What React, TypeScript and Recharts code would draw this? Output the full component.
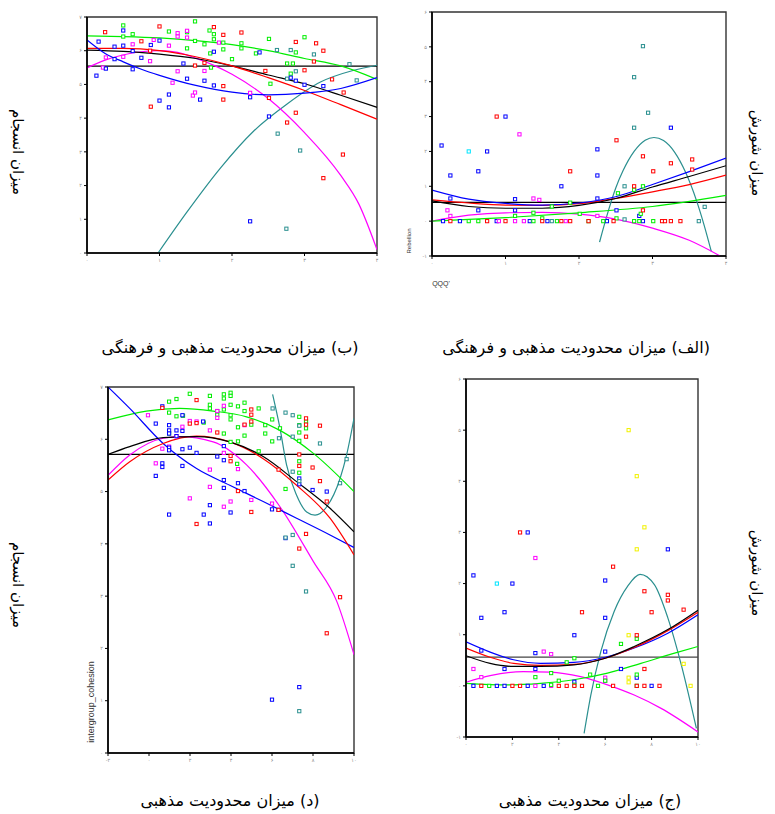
import React from "react";
import { ComposedChart, Scatter, Line, XAxis, YAxis, ReferenceLine, ReferenceArea } from "recharts";

type Pt = [number, number];

// ---- (الف) شورش / محدودیت مذهبی و فرهنگی ----
const A_X_TICKS = [0, 1, 2, 3, 4];
const A_Y_TICKS = [-1, 0, 1, 2, 3, 4, 5, 6];
const A_MEAN = 0.54;
const A_BLUE: Pt[] = [
  [0.13, 2.17], [0.25, 1.31], [0.25, 0.65], [0.63, 1.43], [0.75, 2.0], [1.0, 3.0], [1.13, 0.63], [1.13, 0.31],
  [2.25, 2.06], [2.25, 1.31], [2.25, 0.65], [1.76, 1.0], [2.51, 0.31], [2.82, 0.15], [3.25, 2.68], [0.63, 0.31],
  [0.15, 0], [0.38, 0], [0.88, 0], [1.33, 0], [1.57, 0], [2.38, 0], [2.87, 0],
];
const A_CYAN: Pt[] = [[0.5, 2.0]];
const A_RED: Pt[] = [
  [0.88, 3.0], [1.88, 1.43], [2.51, 2.32], [2.87, 1.86], [3.01, 1.43], [3.25, 1.66], [3.54, 1.77], [3.54, 1.48],
  [2.75, 1.0], [2.87, 0.31], [0.25, 0], [0.75, 0], [1.0, 0], [1.5, 0], [1.76, 0], [1.88, 0], [2.13, 0], [2.47, 0],
  [3.13, 0], [3.17, 0], [3.25, 0], [3.38, 0],
];
const A_MAGENTA: Pt[] = [
  [1.19, 2.49], [0.21, 0.31], [0.25, 0.15], [1.38, 0.65], [1.46, 0.61], [2.25, 0.15], [0.91, 0], [1.13, 0], [1.25, 0], [1.82, 0],
];
const A_GREEN: Pt[] = [
  [1.88, 0.53], [2.01, 0.21], [1.13, 0.15], [1.38, 0.24], [1.5, 0.08], [1.63, 0.42], [2.53, 0.8], [2.75, 0.9],
  [2.87, 1.0], [2.51, 0.08], [2.84, 0.21], [0.5, 0], [0.63, 0], [1.38, 0], [1.7, 0], [2.13, 0], [2.33, 0], [2.75, 0],
  [2.82, 0], [3.01, 0],
];
const A_TEAL: Pt[] = [
  [2.87, 5.02], [2.75, 4.13], [2.94, 3.11], [2.75, 2.68], [2.62, 1.0], [2.62, 0.05], [3.71, 0.41], [3.63, 0], [1.63, 0],
];
const A_FIT_BLUE: Pt[] = [[0, 0.89], [0.5, 0.63], [1, 0.51], [1.5, 0.46], [2, 0.52], [2.5, 0.7], [3, 1.05], [3.5, 1.42], [4, 1.81]];
const A_FIT_BLACK: Pt[] = [[0, 0.58], [0.5, 0.42], [1, 0.37], [1.5, 0.37], [2, 0.45], [2.5, 0.65], [3, 0.98], [3.5, 1.28], [4, 1.59]];
const A_FIT_RED: Pt[] = [[0, 0.61], [0.5, 0.52], [1, 0.46], [1.5, 0.45], [2, 0.5], [2.5, 0.65], [3, 0.84], [3.5, 1.05], [4, 1.32]];
const A_FIT_GREEN: Pt[] = [[0, 0], [1, 0.1], [2, 0.24], [3, 0.42], [4, 0.74]];
const A_FIT_MAGENTA: Pt[] = [[0, 0], [0.5, 0.17], [1, 0.24], [1.5, 0.25], [2, 0.2], [2.5, 0.06], [3, -0.2], [3.5, -0.55], [3.92, -1.0]];
const A_FIT_TEAL: Pt[] = [
  [2.28, -0.6], [2.4, 0.3], [2.5, 0.95], [2.6, 1.45], [2.75, 2.0], [2.9, 2.32], [3.02, 2.4], [3.15, 2.31],
  [3.3, 1.98], [3.45, 1.4], [3.6, 0.58], [3.7, -0.1], [3.8, -0.87],
];

// ---- (ب) انسجام / محدودیت مذهبی و فرهنگی ----
const B_X_TICKS = [0, 1, 2, 3, 4];
const B_Y_TICKS = [0, 1, 2, 3, 4, 5, 6, 7];
const B_MEAN = 5.54;
const B_GREEN: Pt[] = [
  [0.5, 6.75], [0.5, 6.42], [0.63, 6.49], [1.13, 6.57], [1.38, 6.55], [1.38, 6.07], [1.49, 6.87], [1.49, 6.29],
  [1.62, 6.19], [1.69, 6.6], [1.7, 5.92], [1.75, 6.49], [1.75, 6.34], [1.88, 6.24], [1.88, 6.04], [2.0, 5.75],
  [2.13, 6.22], [2.13, 6.07], [2.33, 5.92], [2.51, 6.35], [2.53, 5.02], [2.76, 5.62], [2.84, 5.62], [2.88, 5.95],
  [3.0, 6.4], [2.81, 5.32], [1.71, 5.5],
];
const B_RED: Pt[] = [
  [0.25, 6.55], [0.75, 6.28], [0.87, 6.0], [1.0, 6.72], [1.75, 6.7], [1.88, 6.47], [2.13, 6.54], [2.46, 5.4],
  [2.51, 4.6], [2.76, 3.87], [2.88, 6.26], [2.88, 4.16], [3.0, 5.42], [3.13, 5.68], [3.16, 6.22], [3.26, 6.0],
  [3.26, 2.22], [3.38, 5.15], [3.53, 2.92], [3.54, 4.76], [0.88, 4.34], [1.49, 5.56], [1.88, 4.95], [1.88, 4.55],
  [1.62, 5.64],
];
const B_BLUE: Pt[] = [
  [0.13, 5.26], [0.16, 6.27], [0.26, 5.47], [0.38, 6.12], [0.38, 5.75], [0.5, 6.6], [0.5, 6.15], [0.63, 5.99],
  [0.63, 5.45], [0.75, 5.79], [0.88, 6.17], [1.0, 6.3], [1.0, 4.52], [1.13, 4.7], [1.13, 4.32], [1.33, 5.62],
  [1.38, 5.17], [1.56, 4.55], [1.62, 5.11], [1.75, 5.97], [1.75, 4.97], [2.25, 4.62], [2.38, 5.95], [2.51, 4.05],
  [2.25, 0.94], [2.81, 5.2], [2.88, 5.11], [3.0, 4.99], [3.26, 4.95],
];
const B_TEAL: Pt[] = [
  [2.62, 6.02], [2.81, 6.02], [2.76, 5.17], [2.88, 5.39], [3.13, 5.89], [3.62, 5.6], [3.72, 5.12], [2.63, 3.54],
  [2.94, 3.04], [2.75, 0.72],
];
const B_MAGENTA: Pt[] = [
  [0.22, 5.5], [0.26, 5.8], [0.5, 5.82], [0.63, 6.19], [0.87, 5.99], [0.87, 5.69], [0.92, 6.32], [1.13, 6.15],
  [1.18, 5.05], [1.25, 6.52], [1.25, 6.42], [1.25, 5.39], [1.38, 6.59], [1.38, 6.39], [1.46, 4.67], [1.49, 4.76],
  [1.62, 5.4], [1.82, 6.24], [2.25, 4.75],
];
const B_FIT_GREEN: Pt[] = [[0, 6.44], [0.5, 6.42], [1, 6.38], [1.5, 6.3], [2, 6.18], [2.5, 6.0], [3, 5.77], [3.5, 5.55], [4, 5.15]];
const B_FIT_RED: Pt[] = [[0, 6.07], [0.5, 6.07], [1, 6.0], [1.5, 5.82], [2, 5.55], [2.5, 5.2], [3, 4.82], [3.5, 4.4], [4, 3.97]];
const B_FIT_BLACK: Pt[] = [[0, 6.02], [0.5, 5.98], [1, 5.9], [1.5, 5.77], [2, 5.55], [2.5, 5.28], [3, 5.02], [3.5, 4.68], [4, 4.32]];
const B_FIT_BLUE: Pt[] = [[0, 6.32], [0.25, 5.92], [0.5, 5.67], [0.75, 5.45], [1, 5.27], [1.5, 4.97], [2, 4.77], [2.5, 4.69], [3, 4.74], [3.5, 4.88], [4, 5.2]];
const B_FIT_MAGENTA: Pt[] = [[0, 5.49], [0.25, 5.72], [0.75, 5.97], [1, 6.0], [1.25, 5.95], [1.5, 5.78], [2, 5.3], [2.5, 4.58], [3, 3.57], [3.5, 2.3], [3.75, 1.45], [4, 0.1]];
const B_FIT_TEAL: Pt[] = [[0.98, 0], [1.38, 1.22], [1.84, 2.52], [2.3, 3.62], [2.76, 4.42], [3.22, 5.07], [3.68, 5.42], [4, 5.57]];

// ---- (ج) شورش / محدودیت مذهبی ----
const C_X_TICKS = [0, 2, 4, 6, 8, 10];
const C_Y_TICKS = [-1, 0, 1, 2, 3, 4, 5, 6];
const C_MEAN = 0.56;
const C_BLUE: Pt[] = [
  [0.32, 2.16], [0.66, 1.33], [0.32, 0], [0.66, 0.69], [1.33, 0], [1.66, 1.44], [1.66, 0.33], [1.66, 0], [2.0, 2.0],
  [2.66, 3.0], [2.66, 0], [2.99, 0.64], [2.99, 0.33], [3.35, 0], [4.67, 0.99], [4.67, 0.08], [6.0, 2.06], [6.0, 1.33],
  [6.0, 0.67], [6.68, 0.33], [7.36, 0.16], [8.0, 0], [8.7, 2.67],
];
const C_CYAN: Pt[] = [[1.33, 2.0]];
const C_RED: Pt[] = [
  [0.66, 0], [2.0, 0], [2.33, 3.0], [2.33, 0], [4.0, 0], [4.34, 0], [4.67, 0], [5.0, 1.44], [5.0, 0], [6.34, 2.33],
  [6.34, 0], [7.36, 0.99], [7.36, 0], [7.69, 1.85], [7.69, 0.33], [7.69, 0], [8.0, 1.44], [8.34, 0], [8.7, 1.78],
  [8.7, 1.67], [9.38, 1.49],
];
const C_MAGENTA: Pt[] = [[0.32, 0.33], [0.66, 0.17], [2.99, 2.5], [2.99, 0], [3.35, 0.67], [3.67, 0.62], [3.67, 0], [6.0, 0.16], [6.0, 0.1]];
const C_GREEN: Pt[] = [
  [1.0, 0], [2.99, 0.17], [3.67, 0.25], [4.0, 0.1], [4.34, 0.46], [4.67, 0.54], [5.35, 0.22], [5.69, 0], [6.0, 0.1],
  [6.68, 0.82], [7.36, 0.92], [7.36, 0.22], [7.36, 0], [3.67, 0.02], [4.67, 0.02],
];
const C_YELLOW: Pt[] = [[7.01, 5.0], [7.36, 4.1], [7.69, 3.1], [7.36, 2.67], [7.01, 0.99], [7.01, 0.16], [7.01, 0.07], [9.38, 0.43], [9.68, 0]];
const C_FIT_BLACK: Pt[] = [[0, 0.59], [1.04, 0.44], [2.05, 0.38], [3.21, 0.38], [4.65, 0.41], [6, 0.54], [7.25, 0.77], [8.7, 1.1], [10, 1.48]];
const C_FIT_RED: Pt[] = [[0, 0.74], [1.04, 0.56], [2.05, 0.44], [3.21, 0.4], [4.65, 0.42], [6, 0.54], [7.25, 0.75], [8.7, 1.08], [10, 1.44]];
const C_FIT_BLUE: Pt[] = [[0, 0.86], [1.04, 0.66], [2.05, 0.51], [3.21, 0.44], [4.65, 0.46], [6, 0.56], [7.25, 0.74], [8.7, 1.03], [10, 1.39]];
const C_FIT_GREEN: Pt[] = [[0, 0.05], [1.76, 0.02], [3.21, 0.05], [4.65, 0.12], [6.1, 0.25], [7.54, 0.44], [8.99, 0.64], [10, 0.77]];
const C_FIT_MAGENTA: Pt[] = [[0, 0.07], [1.04, 0.2], [2.47, 0.28], [3.64, 0.27], [4.94, 0.18], [6.1, 0.02], [7.25, -0.18], [8.41, -0.44], [10, -0.9]];
const C_FIT_TEAL: Pt[] = [[5.09, -0.93], [5.38, -0.18], [5.81, 0.67], [6.39, 1.46], [6.97, 1.95], [7.5, 2.18], [8.12, 1.98], [8.7, 1.33], [9.28, 0.41], [9.93, -0.83]];

// ---- (د) انسجام / محدودیت مذهبی ----
const D_X_TICKS = [-2, 0, 2, 4, 6, 8, 10];
const D_Y_TICKS = [0, 1, 2, 3, 4, 5, 6, 7];
const D_MEAN = 5.71;
const D_GREEN: Pt[] = [
  [0.98, 6.72], [1.34, 6.77], [0.98, 6.51], [1.34, 6.44], [1.99, 6.87], [2.97, 6.83], [2.97, 6.66], [2.97, 6.59],
  [3.65, 6.86], [3.65, 6.78], [3.98, 6.89], [3.98, 6.83], [3.65, 6.57], [3.98, 6.66], [4.34, 6.63], [4.66, 6.7],
  [4.66, 6.54], [5.35, 6.59], [4.66, 6.07], [4.34, 5.96], [3.98, 5.95], [3.65, 6.11], [3.98, 6.46], [3.98, 6.38],
  [4.34, 6.23], [3.33, 6.54], [3.33, 6.47], [2.67, 6.32], [4.99, 6.28], [5.67, 6.11], [5.67, 6.27], [6.01, 6.38],
  [6.01, 5.96], [5.35, 5.77], [6.39, 6.21], [7.33, 6.43], [7.33, 6.27], [7.33, 6.13], [7.66, 6.21], [7.33, 5.97],
  [7.33, 5.58], [7.33, 5.36], [7.66, 6.34], [6.66, 5.05], [4.3, 5.53], [0.98, 6.11], [1.66, 6.45],
];
const D_RED: Pt[] = [
  [0.65, 6.6], [2.32, 6.75], [2.32, 6.31], [1.99, 6.3], [4.99, 6.57], [4.99, 6.47], [4.99, 6.34], [4.66, 6.28],
  [3.33, 6.13], [3.98, 5.68], [3.98, 5.58], [4.34, 5.01], [4.99, 4.61], [6.32, 5.42], [6.32, 4.65], [7.33, 5.71],
  [7.33, 5.49], [7.66, 6.4], [7.66, 6.28], [7.66, 6.05], [7.98, 5.46], [8.34, 6.26], [8.34, 5.2], [8.67, 4.81],
  [2.32, 4.38], [7.33, 3.91], [7.66, 4.19], [9.32, 2.98], [8.67, 2.29],
];
const D_BLUE: Pt[] = [
  [0.65, 6.63], [0.33, 6.3], [0.65, 5.54], [0.65, 5.47], [0.33, 5.3], [0.98, 6.27], [0.98, 6.17], [0.98, 6.11],
  [0.98, 5.84], [0.98, 5.79], [1.34, 6.17], [1.34, 6.06], [1.63, 6.46], [1.63, 5.81], [1.63, 5.49], [1.99, 5.84],
  [2.32, 5.74], [2.64, 6.34], [2.97, 4.74], [2.67, 4.56], [0.98, 4.56], [2.97, 4.39], [3.65, 5.87], [3.65, 5.6],
  [3.33, 5.67], [3.65, 5.22], [3.65, 5.07], [3.98, 4.6], [4.34, 5.16], [4.66, 5.01], [6.0, 4.66], [6.32, 4.65],
  [6.66, 4.11], [7.33, 5.25], [7.33, 5.14], [7.98, 5.03], [8.67, 5.0], [6.0, 1.02], [7.33, 1.26], [1.63, 6.16],
];
const D_MAGENTA: Pt[] = [
  [-0.05, 6.46], [0.33, 5.54], [0.65, 5.82], [0.98, 5.86], [1.34, 6.06], [1.63, 6.24], [1.99, 6.35], [2.32, 6.34],
  [2.97, 6.17], [3.33, 6.54], [3.33, 6.41], [3.65, 6.64], [3.65, 5.74], [2.97, 5.42], [2.97, 5.09], [1.99, 4.87],
  [3.65, 4.71], [3.98, 4.81], [4.34, 5.43], [4.66, 6.27], [4.99, 4.84], [6.0, 4.77],
];
const D_TEAL: Pt[] = [
  [6.03, 6.59], [6.66, 6.51], [7.01, 6.46], [7.33, 6.26], [7.01, 6.05], [6.34, 6.02], [7.01, 5.38], [7.33, 5.2],
  [8.34, 5.92], [9.32, 5.16], [9.64, 5.62], [7.01, 4.17], [6.66, 4.12], [7.01, 3.58], [7.66, 3.09], [7.33, 0.8],
];
const D_FIT_GREEN: Pt[] = [[-2, 6.37], [-0.13, 6.54], [1.5, 6.59], [3.13, 6.54], [4.76, 6.43], [6.39, 6.17], [8.02, 5.73], [10, 5.0]];
const D_FIT_BLACK: Pt[] = [[-2, 5.71], [-0.94, 5.86], [0.69, 6.03], [2.32, 6.05], [3.94, 5.95], [5.57, 5.67], [7.2, 5.19], [8.83, 4.68], [10, 4.23]];
const D_FIT_RED: Pt[] = [[-2, 5.22], [-0.94, 5.57], [0.69, 5.92], [2.32, 6.06], [3.94, 5.95], [5.57, 5.63], [7.2, 5.12], [8.83, 4.49], [10, 3.79]];
const D_FIT_MAGENTA: Pt[] = [[-2, 5.31], [-0.94, 5.7], [0.69, 6.02], [1.5, 6.05], [3.13, 5.95], [4.76, 5.51], [6.39, 4.71], [8.02, 3.66], [9.16, 2.9], [10, 1.88]];
const D_FIT_BLUE: Pt[] = [[-2, 7.0], [-0.94, 6.59], [0.69, 5.92], [2.32, 5.44], [3.94, 5.12], [5.57, 4.81], [7.2, 4.49], [8.83, 4.17], [10, 3.93]];
const D_FIT_TEAL: Pt[] = [[6.03, 6.86], [6.39, 6.21], [6.71, 5.51], [7.2, 4.93], [7.69, 4.61], [8.1, 4.55], [8.67, 4.71], [9.32, 5.25], [9.64, 5.7], [10, 6.4]];

const BLUE = "#0000ff";
const RED = "#ff0000";
const GREEN = "#00ee00";
const MAGENTA = "#ff00ff";
const TEAL = "#2a8f8f";
const CYAN = "#00e5ff";
const YELLOW = "#f2f200";

const FA_DIGITS = "۰۱۲۳۴۵۶۷۸۹";
const fa = (v: number) => String(v).replace(/\d/g, (d) => FA_DIGITS[+d]);
const toXY = (pts: Pt[]) => pts.map(([x, y]) => ({ x, y }));

type Group = { color: string; pts: Pt[] };
type Box = { left: number; top: number; width: number; height: number };

interface PanelProps {
  box: Box;
  xDomain: [number, number];
  yDomain: [number, number];
  xTicks: number[];
  yTicks: number[];
  mean: number;
  meanColor?: string;
  points: Group[];
  fits: Group[];
}

const square = (color: string) => (props: any) => {
  const { cx, cy } = props;
  if (cx == null || cy == null) return <g />;
  return <rect x={cx - 1.6} y={cy - 1.6} width={3.2} height={3.2} fill="#fff" stroke={color} strokeWidth={1} />;
};

function Panel({ box, xDomain, yDomain, xTicks, yTicks, mean, meanColor = "#000", points, fits }: PanelProps) {
  const tick = { fontSize: 5, fill: "#888", fontFamily: "DejaVu Sans" };
  return (
    <div style={{ position: "absolute", left: box.left - 20, top: box.top - 6 }}>
      <ComposedChart
        width={box.width + 24}
        height={box.height + 22}
        margin={{ top: 6, right: 4, bottom: 4, left: 6 }}
      >
        <XAxis
          type="number"
          dataKey="x"
          domain={xDomain}
          ticks={xTicks}
          interval={0}
          allowDataOverflow
          height={12}
          tickSize={3}
          tick={tick}
          tickFormatter={fa}
          axisLine={{ stroke: "#000", strokeWidth: 1.6 }}
          tickLine={{ stroke: "#000" }}
        />
        <YAxis
          type="number"
          dataKey="y"
          domain={yDomain}
          ticks={yTicks}
          interval={0}
          allowDataOverflow
          width={14}
          tickSize={3}
          tick={tick}
          tickFormatter={fa}
          axisLine={{ stroke: "#000", strokeWidth: 1.6 }}
          tickLine={{ stroke: "#000" }}
        />
        <ReferenceArea
          x1={xDomain[0]}
          x2={xDomain[1]}
          y1={yDomain[0]}
          y2={yDomain[1]}
          fill="none"
          stroke="#333"
          strokeWidth={1.4}
          ifOverflow="visible"
        />
        {points.map((g, i) => (
          <Scatter key={"p" + i} data={toXY(g.pts)} shape={square(g.color)} isAnimationActive={false} />
        ))}
        <ReferenceLine y={mean} stroke={meanColor} strokeWidth={1.2} />
        {fits.map((g, i) => (
          <Line
            key={"f" + i}
            data={toXY(g.pts)}
            dataKey="y"
            type="monotone"
            stroke={g.color}
            strokeWidth={1.2}
            dot={false}
            activeDot={false}
            isAnimationActive={false}
          />
        ))}
      </ComposedChart>
    </div>
  );
}

const faFont = "'DejaVu Sans', sans-serif";

function Label({ x, y, text, size = 15, rotate = 0 }: { x: number; y: number; text: string; size?: number; rotate?: number }) {
  return (
    <div
      dir="rtl"
      style={{
        position: "absolute",
        left: x,
        top: y,
        transform: `translate(-50%, -50%) rotate(${rotate}deg)`,
        whiteSpace: "nowrap",
        fontFamily: faFont,
        fontSize: size,
        color: "#000",
      }}
    >
      {text}
    </div>
  );
}

function Small({ x, y, text, size, rotate = 0 }: { x: number; y: number; text: string; size: number; rotate?: number }) {
  return (
    <div
      style={{
        position: "absolute",
        left: x,
        top: y,
        transform: `translate(-50%, -50%) rotate(${rotate}deg)`,
        whiteSpace: "nowrap",
        fontFamily: "'Liberation Sans', Arial, sans-serif",
        fontSize: size,
        color: "#333",
      }}
    >
      {text}
    </div>
  );
}

export default function App() {
  return (
    <div style={{ position: "absolute", left: 0, top: 0, width: 775, height: 814, background: "#fff", overflow: "hidden" }}>
      <Panel
        box={{ left: 432, top: 12, width: 294, height: 244 }}
        xDomain={[0, 4]}
        yDomain={[-1, 6]}
        xTicks={A_X_TICKS}
        yTicks={A_Y_TICKS}
        mean={A_MEAN}
        points={[
          { color: BLUE, pts: A_BLUE },
          { color: CYAN, pts: A_CYAN },
          { color: MAGENTA, pts: A_MAGENTA },
          { color: GREEN, pts: A_GREEN },
          { color: RED, pts: A_RED },
          { color: TEAL, pts: A_TEAL },
        ]}
        fits={[
          { color: TEAL, pts: A_FIT_TEAL },
          { color: MAGENTA, pts: A_FIT_MAGENTA },
          { color: GREEN, pts: A_FIT_GREEN },
          { color: RED, pts: A_FIT_RED },
          { color: "#000", pts: A_FIT_BLACK },
          { color: BLUE, pts: A_FIT_BLUE },
        ]}
      />
      <Panel
        box={{ left: 87, top: 17, width: 290, height: 236 }}
        xDomain={[0, 4]}
        yDomain={[0, 7]}
        xTicks={B_X_TICKS}
        yTicks={B_Y_TICKS}
        mean={B_MEAN}
        points={[
          { color: GREEN, pts: B_GREEN },
          { color: MAGENTA, pts: B_MAGENTA },
          { color: BLUE, pts: B_BLUE },
          { color: RED, pts: B_RED },
          { color: TEAL, pts: B_TEAL },
        ]}
        fits={[
          { color: TEAL, pts: B_FIT_TEAL },
          { color: MAGENTA, pts: B_FIT_MAGENTA },
          { color: GREEN, pts: B_FIT_GREEN },
          { color: "#000", pts: B_FIT_BLACK },
          { color: RED, pts: B_FIT_RED },
          { color: BLUE, pts: B_FIT_BLUE },
        ]}
      />
      <Panel
        box={{ left: 466, top: 379, width: 232, height: 358 }}
        xDomain={[0, 10]}
        yDomain={[-1, 6]}
        xTicks={C_X_TICKS}
        yTicks={C_Y_TICKS}
        mean={C_MEAN}
        meanColor="#444"
        points={[
          { color: BLUE, pts: C_BLUE },
          { color: CYAN, pts: C_CYAN },
          { color: MAGENTA, pts: C_MAGENTA },
          { color: GREEN, pts: C_GREEN },
          { color: RED, pts: C_RED },
          { color: YELLOW, pts: C_YELLOW },
        ]}
        fits={[
          { color: TEAL, pts: C_FIT_TEAL },
          { color: MAGENTA, pts: C_FIT_MAGENTA },
          { color: GREEN, pts: C_FIT_GREEN },
          { color: BLUE, pts: C_FIT_BLUE },
          { color: RED, pts: C_FIT_RED },
          { color: "#000", pts: C_FIT_BLACK },
        ]}
      />
      <Panel
        box={{ left: 108, top: 387, width: 246, height: 366 }}
        xDomain={[-2, 10]}
        yDomain={[0, 7]}
        xTicks={D_X_TICKS}
        yTicks={D_Y_TICKS}
        mean={D_MEAN}
        points={[
          { color: GREEN, pts: D_GREEN },
          { color: MAGENTA, pts: D_MAGENTA },
          { color: BLUE, pts: D_BLUE },
          { color: RED, pts: D_RED },
          { color: TEAL, pts: D_TEAL },
        ]}
        fits={[
          { color: TEAL, pts: D_FIT_TEAL },
          { color: MAGENTA, pts: D_FIT_MAGENTA },
          { color: GREEN, pts: D_FIT_GREEN },
          { color: BLUE, pts: D_FIT_BLUE },
          { color: RED, pts: D_FIT_RED },
          { color: "#000", pts: D_FIT_BLACK },
        ]}
      />

      <Small x={409} y={241} text="Rebellion" size={6} rotate={-90} />
      <Small x={441} y={283} text="QQQ'" size={7} />
      <Small x={91} y={702} text="intergroup_cohesion" size={9} rotate={-90} />

      <Label x={18} y={152} text="میزان انسجام" size={15} rotate={90} />
      <Label x={757} y={153} text="میزان شورش" size={15} rotate={90} />
      <Label x={18} y={585} text="میزان انسجام" size={15} rotate={90} />
      <Label x={757} y={573} text="میزان شورش" size={15} rotate={90} />

      <Label x={230} y={347} text="(ب) میزان محدودیت مذهبی و فرهنگی" size={16} />
      <Label x={576} y={347} text="(الف) میزان محدودیت مذهبی و فرهنگی" size={16} />
      <Label x={230} y={800} text="(د) میزان محدودیت مذهبی" size={16} />
      <Label x={590} y={800} text="(ج) میزان محدودیت مذهبی" size={16} />
    </div>
  );
}
